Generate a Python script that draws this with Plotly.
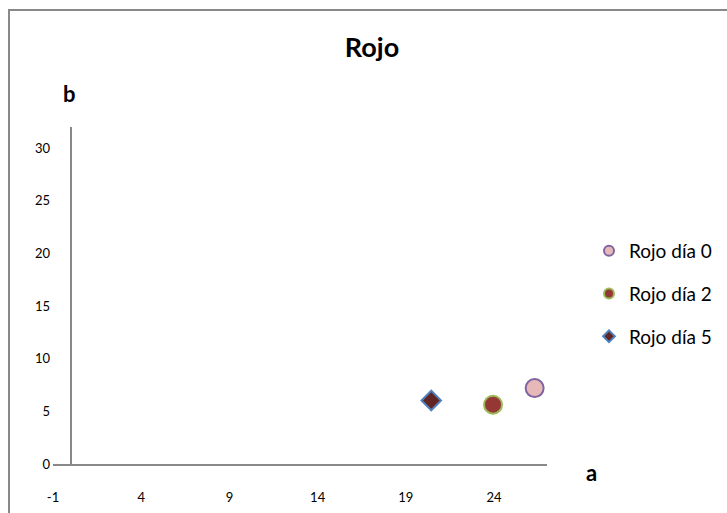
import plotly.graph_objects as go

series_names = ["Rojo día 0", "Rojo día 2", "Rojo día 5"]
a_values = [26.3, 23.94, 20.44]
b_values = [7.21, 5.63, 6.03]
symbols = ["circle", "circle", "diamond"]
fill_colors = ["#E6B9B8", "#953735", "#632523"]
line_colors = ["#8064A2", "#9BBB59", "#4F81BD"]
marker_sizes = [18, 18, 15]
legend_sizes = [10, 10, 9]
x_ticks = [-1, 4, 9, 14, 19, 24]
y_ticks = [0, 5, 10, 15, 20, 25, 30]

FONT = "Lato"
GRAY = "#898989"

fig = go.Figure()
for i, name in enumerate(series_names):
    fig.add_trace(go.Scatter(
        x=[a_values[i]], y=[b_values[i]], mode="markers", name=name,
        showlegend=False, legendgroup=name,
        marker=dict(symbol=symbols[i], size=marker_sizes[i], color=fill_colors[i],
                    line=dict(color=line_colors[i], width=2)),
    ))
for i, name in enumerate(series_names):
    fig.add_trace(go.Scatter(
        x=[None], y=[None], mode="markers", name=name, legendgroup="g" + str(i),
        marker=dict(symbol=symbols[i], size=legend_sizes[i], color=fill_colors[i],
                    line=dict(color=line_colors[i], width=2)),
    ))

L, R, T, B = 53, 180, 127, 49
W = 727 - L - R
H = 513 - T - B

def px(xp):
    return (xp - L) / W

def py(yp):
    return (513 - B - yp) / H

fig.update_layout(
    width=727, height=513,
    margin=dict(l=L, r=R, t=T, b=B, autoexpand=False),
    paper_bgcolor="white", plot_bgcolor="white",
    font=dict(family=FONT, color="#000000"),
    title=dict(text="<b>Rojo</b>", x=372 / 727, xanchor="center", xref="container",
               y=1 - 48 / 513, yanchor="middle", yref="container",
               font=dict(size=27, family=FONT, color="#000000")),
    xaxis=dict(range=[-1, 27], tickvals=x_ticks, ticktext=[str(v) for v in x_ticks],
               showgrid=False, showline=True, linecolor=GRAY, linewidth=2,
               zeroline=True, zerolinecolor=GRAY, zerolinewidth=2,
               ticks="", ticklabelstandoff=20, automargin=False,
               tickfont=dict(size=13, family=FONT, color="#000000")),
    yaxis=dict(range=[0, 32], tickvals=y_ticks, ticktext=[str(v) for v in y_ticks],
               showgrid=False, showline=False, zeroline=False, ticks="",
               ticklabelstandoff=2, automargin=False,
               tickfont=dict(size=13, family=FONT, color="#000000")),
    legend=dict(x=px(589), xanchor="left", y=py(232), yanchor="top",
                font=dict(size=19, family=FONT, color="#000000"),
                tracegroupgap=15, itemwidth=30, bgcolor="rgba(0,0,0,0)"),
    showlegend=True,
    annotations=[
        dict(text="<b>b</b>", xref="paper", yref="paper", x=px(69), y=py(93),
             xanchor="center", yanchor="middle", showarrow=False,
             font=dict(size=22, family=FONT, color="#000000")),
        dict(text="<b>a</b>", xref="paper", yref="paper", x=px(591), y=py(472),
             xanchor="center", yanchor="middle", showarrow=False,
             font=dict(size=22, family=FONT, color="#000000")),
    ],
    shapes=[
        dict(type="rect", xref="paper", yref="paper", x0=px(9), y0=py(10),
             x1=px(740), y1=py(530), line=dict(color=GRAY, width=2), layer="below"),
    ],
)

fig.write_html("out.html")
